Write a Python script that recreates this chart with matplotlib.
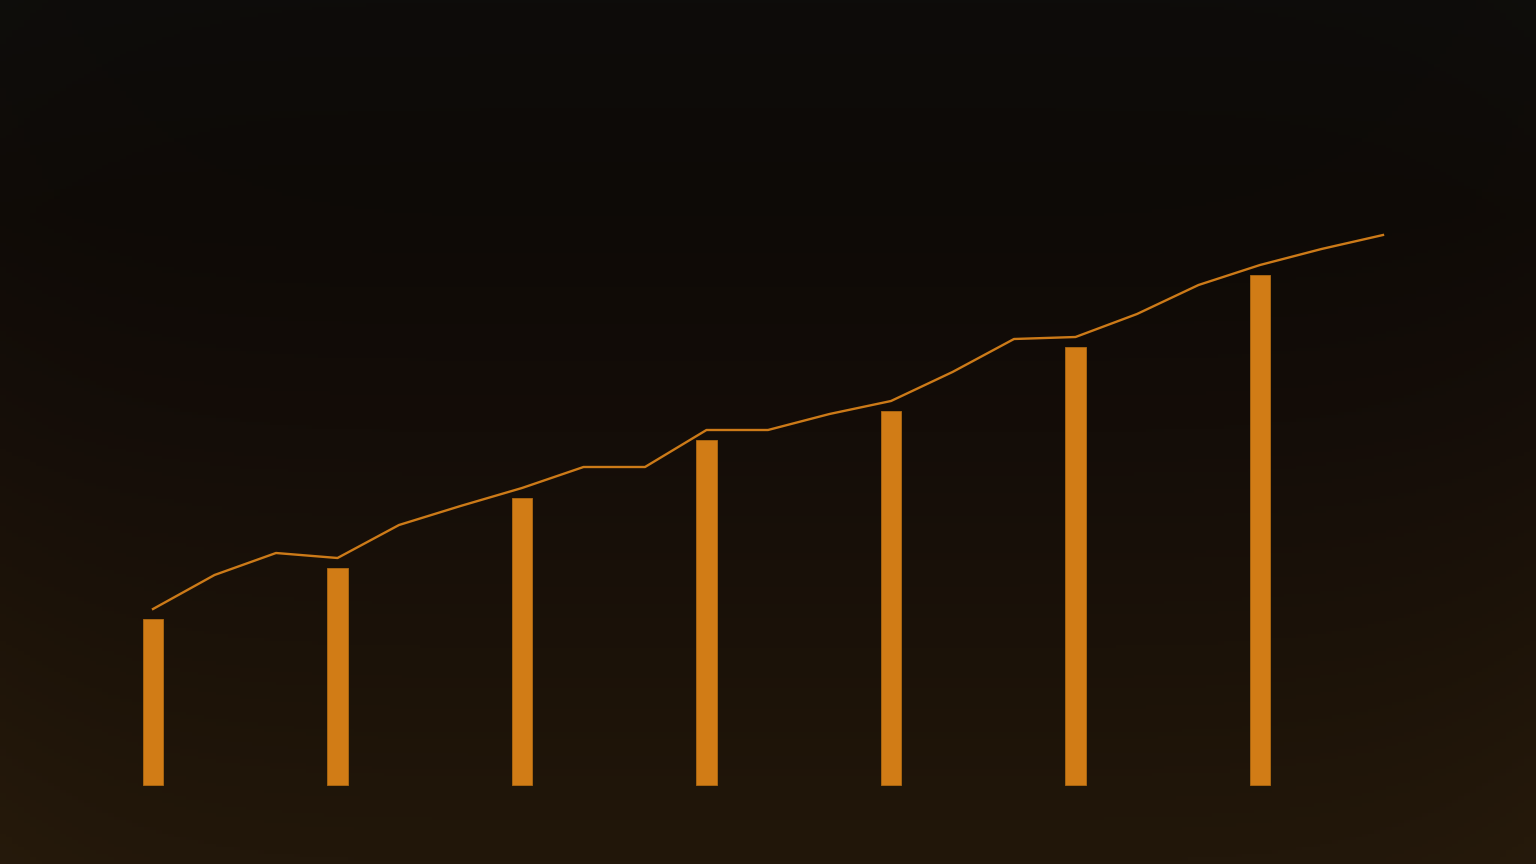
import numpy as np
import matplotlib
matplotlib.use("Agg")
import matplotlib.pyplot as plt
from matplotlib.colors import LinearSegmentedColormap

# line: one point per period, bars every third period
periods = list(range(21))
line_values = [176, 210, 232, 227, 260, 279, 297, 318, 318, 355, 355,
               371, 384, 413, 446, 448, 471, 500, 520, 536, 550]
bar_periods = [0, 3, 6, 9, 12, 15, 18]
bar_values = [166, 217, 287, 345, 374, 438, 510]

orange = "#d17c16"
line_orange = "#cc7a18"

fig = plt.figure(figsize=(15.36, 8.64), dpi=100)

# background gradient, dark at the top, warm brown at the bottom
bg = fig.add_axes([0, 0, 1, 1], zorder=0)
bg.set_axis_off()
cmap = LinearSegmentedColormap.from_list(
    "bg", ["#0d0c0a", "#0e0a06", "#140d08", "#1b1208", "#22170a"])
grad = np.linspace(0, 1, 256).reshape(-1, 1)
yy, xx = np.mgrid[0:1:256j, 0:1:256j]
img = cmap(np.repeat(grad, 256, axis=1))
# slight vignette lightening toward the side edges
edge = np.clip(np.abs(xx - 0.5) * 2, 0, 1) ** 6
img[..., :3] = img[..., :3] * (1 + 0.12 * edge[..., None])
bg.imshow(img, aspect="auto", extent=[0, 1, 0, 1], origin="upper")

ax = fig.add_axes([0, 0, 1, 1], zorder=1)
ax.patch.set_alpha(0)
ax.set_axis_off()

ax.bar(bar_periods, bar_values, width=0.33, color=orange,
       edgecolor="#b06a12", linewidth=0.6, zorder=2)
ax.plot(periods, line_values, color=line_orange, linewidth=1.7, zorder=3)

px = 61.5
ax.set_xlim(-153 / px, (1536 - 153) / px)
ax.set_ylim(-(864 - 785), 785)

fig.savefig("out.png", dpi=100)
